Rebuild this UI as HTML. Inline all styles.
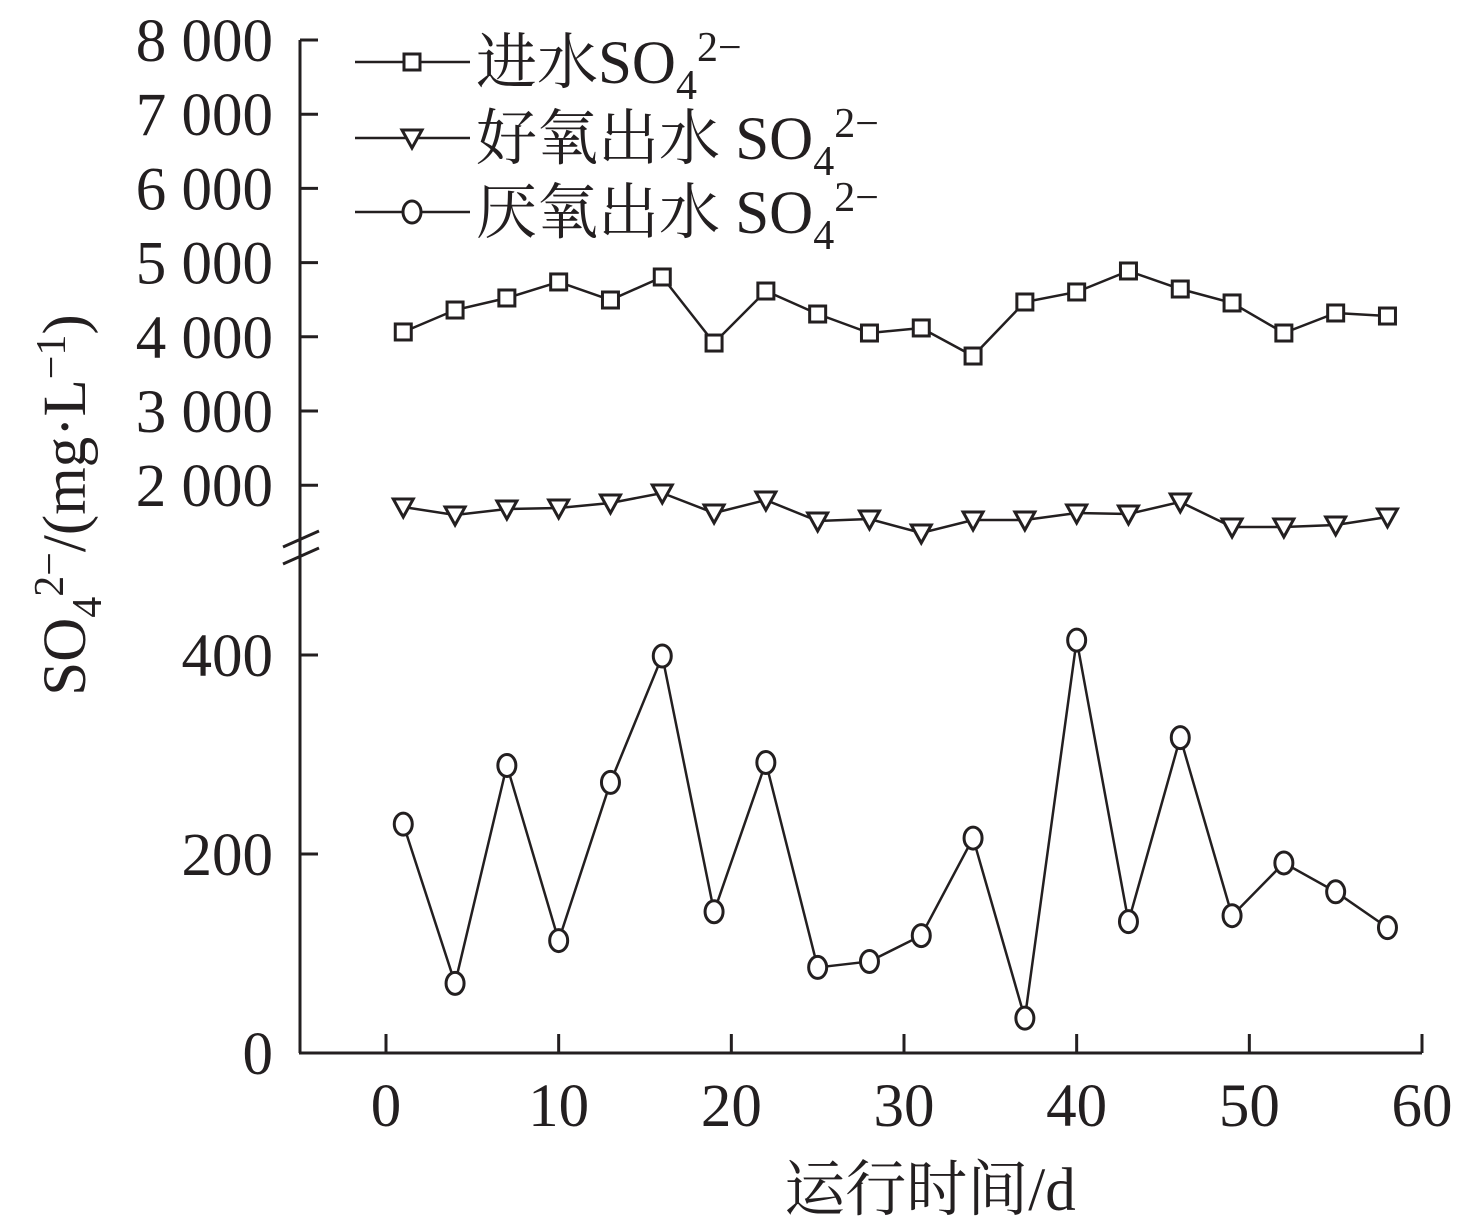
<!DOCTYPE html>
<html><head><meta charset="utf-8"><style>
html,body{margin:0;padding:0;background:#fff;}
svg{display:block;font-family:"Liberation Serif","Noto Serif CJK SC",serif;}
</style></head><body>
<svg id="chart" width="1458" height="1231" viewBox="0 0 1458 1231">
<g id="axes"></g>
<g id="series"></g>
<g id="legend"></g>
</svg>
<script>
const days = [1,4,7,10,13,16,19,22,25,28,31,34,37,40,43,46,49,52,55,58];
const influent = [4065,4361,4523,4739,4496,4806,3916,4617,4307,4051,4119,3741,4469,4604,4887,4644,4456,4051,4321,4280];
const aerobic = [1706,1598,1679,1693,1760,1895,1625,1800,1517,1544,1356,1531,1531,1625,1612,1774,1437,1437,1464,1572];
const anaerobic = [230,70,289,113,272,399,142,292,86,92,118,216,35,415,132,317,138,191,162,126];
const xTicks = [0,10,20,30,40,50,60];
const yTicksUpper = [2000,3000,4000,5000,6000,7000,8000];
const yTicksUpperLabels = ["2 000","3 000","4 000","5 000","6 000","7 000","8 000"];
const yTicksLower = [0,200,400];
const legendLabels = ["进水SO","好氧出水 SO","厌氧出水 SO"];

const NS="http://www.w3.org/2000/svg";
const X0=300, X1=1422, Y0=1053;
const FS=61;
function xs(d){return 386 + d*(1422-386)/60;}
function yUpper(v){return 40 + (8000-v)*74.2/1000;}
function yLower(v){return 1053 - v*0.995;}
function yAuto(v){return v>=1000 ? yUpper(v) : yLower(v);}
function mk(tag,attrs,parent){const e=document.createElementNS(NS,tag);for(const k in attrs)e.setAttribute(k,attrs[k]);parent.appendChild(e);return e;}
const axes=document.getElementById('axes'), series=document.getElementById('series'), legend=document.getElementById('legend');
const st={stroke:"#231f20","stroke-width":3,fill:"none"};

let l=mk('line',Object.assign({x1:X0,y1:40,x2:X0,y2:Y0},st),axes);


l=mk('line',Object.assign({x1:X0-1,y1:Y0,x2:X1,y2:Y0},st),axes);


[[547,531],[564,548]].forEach(p=>{
  const b=mk('line',Object.assign({x1:283,y1:p[0],x2:319,y2:p[1]},st),axes);
  
  
});
xTicks.forEach(t=>{
  const x=xs(t);
  const tk=mk('line',Object.assign({x1:x,y1:Y0,x2:x,y2:Y0-19},st),axes);
  
  
  const tx=mk('text',{x:x,y:1126,"font-size":FS,"text-anchor":"middle",fill:"#231f20"},axes);
  tx.textContent=t;
  
  
});
function yTick(y,label){
  const tk=mk('line',Object.assign({x1:X0,y1:y,x2:X0+18,y2:y},st),axes);
  
  
  const tx=mk('text',{x:273,y:y+21,"font-size":FS,"text-anchor":"end",fill:"#231f20"},axes);
  tx.textContent=label;
  
  
}
yTicksUpper.forEach((t,i)=>yTick(yUpper(t),yTicksUpperLabels[i]));
yTicksLower.forEach(t=>yTick(yLower(t),String(t)));

let xt=mk('text',{x:930,y:1210,"font-size":FS,"text-anchor":"middle",fill:"#231f20"},axes);
xt.textContent="运行时间/d";


let yt=mk('text',{transform:"translate(85,505) rotate(-90)","font-size":FS,"text-anchor":"middle",fill:"#231f20"},axes);
yt.innerHTML='SO<tspan font-size="42" dy="16">4</tspan><tspan font-size="42" dy="-38">2−</tspan><tspan dy="22">/(mg·L</tspan><tspan font-size="42" dy="-20">−1</tspan><tspan dy="20">)</tspan>';



function marker(type,x,y,parent){
  let m;
  if(type==='square') m=mk('rect',{x:x-8,y:y-8,width:16,height:16,fill:"#fff",stroke:"#231f20","stroke-width":3},parent);
  else if(type==='tri') m=mk('polygon',{points:`${x-10},${y-8} ${x+10},${y-8} ${x},${y+10}`,fill:"#fff",stroke:"#231f20","stroke-width":3},parent);
  else m=mk('ellipse',{cx:x,cy:y,rx:9,ry:11,fill:"#fff",stroke:"#231f20","stroke-width":3},parent);
  
  
}
function drawSeries(vals,type,name){
  const g=mk('g',{},series);
  
  
  const pts=vals.map((v,i)=>xs(days[i])+','+yAuto(v)).join(' ');
  const pl=mk('polyline',{points:pts,fill:"none",stroke:"#231f20","stroke-width":2.5},g);
  
  
  vals.forEach((v,i)=>marker(type,xs(days[i]),yAuto(v),g));
}
drawSeries(influent,'square','influent-series');
drawSeries(aerobic,'tri','aerobic-series');
drawSeries(anaerobic,'circle','anaerobic-series');

const ltypes=['square','tri','circle'], ly=[62,138,212];
legendLabels.forEach((lab,i)=>{
  const g=mk('g',{},legend);
  
  
  mk('line',{x1:355,y1:ly[i],x2:470,y2:ly[i],stroke:"#231f20","stroke-width":2.5},g);
  marker(ltypes[i],412,ly[i],g);
  const t=mk('text',{x:476,y:ly[i]+21,"font-size":FS,fill:"#231f20"},g);
  t.innerHTML=lab+'<tspan font-size="42" dy="16">4</tspan><tspan font-size="42" dy="-38">2−</tspan>';
  
  
});
</script>
</body></html>
